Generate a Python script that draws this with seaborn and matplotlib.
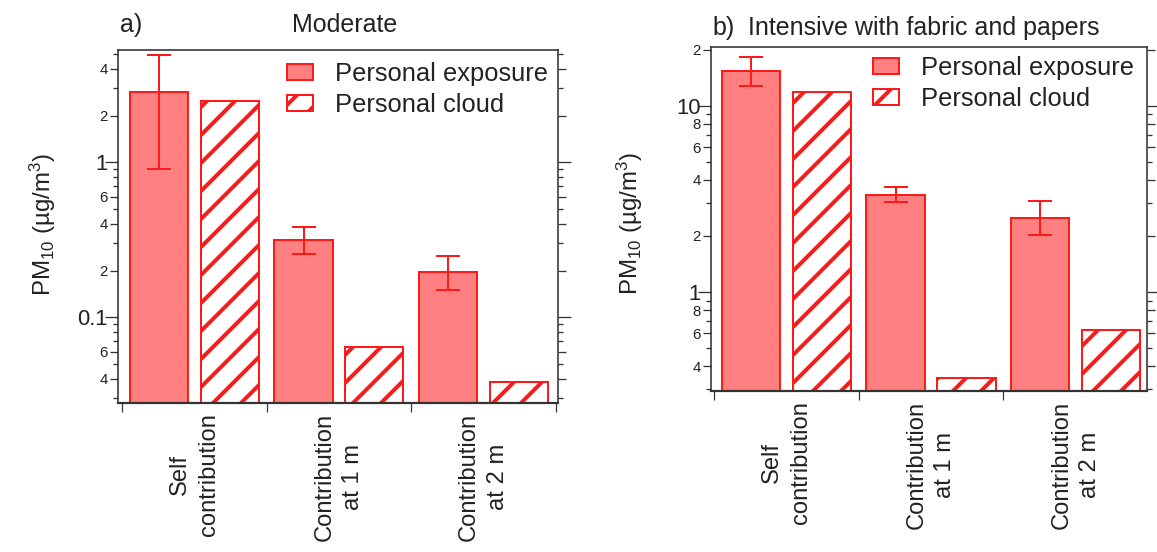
import numpy as np
import pandas as pd
import matplotlib
matplotlib.use("Agg")
import matplotlib.pyplot as plt
from matplotlib.patches import Patch
from matplotlib.ticker import FixedLocator, FixedFormatter, NullFormatter
import seaborn as sns

# ---------------- data ----------------
categories = ["Self\ncontribution", "Contribution\nat 1 m", "Contribution\nat 2 m"]
series = ["Personal exposure", "Personal cloud"]

mod_exposure = [2.85, 0.315, 0.196]
mod_exposure_lo = [0.90, 0.257, 0.151]
mod_exposure_hi = [4.94, 0.381, 0.247]
mod_cloud = [2.50, 0.0641, 0.038]

int_exposure = [15.4, 3.31, 2.50]
int_exposure_lo = [12.8, 3.06, 2.03]
int_exposure_hi = [18.3, 3.67, 3.10]
int_cloud = [11.85, 0.344, 0.627]

mod_major = [0.04, 0.06, 0.1, 0.2, 0.4, 0.6, 1, 2, 4]
mod_major_labels = ["4", "6", "0.1", "2", "4", "6", "1", "2", "4"]
mod_minor = [0.03, 0.05, 0.07, 0.08, 0.09, 0.3, 0.5, 0.7, 0.8, 0.9, 3, 5]

int_major = [0.4, 0.6, 0.8, 1, 2, 4, 6, 8, 10, 20]
int_major_labels = ["4", "6", "8", "1", "2", "4", "6", "8", "10", "2"]
int_minor = [0.3, 0.5, 0.7, 0.9, 3, 5, 7, 9]

decade_labels = {"0.1", "1", "10"}

# ---------------- style ----------------
DPI = 84
W, H = 1157, 552


def px(p):
    return p * 72.0 / DPI


FILL = "#FF8080"
EDGE = "#FF1A1A"
SPINE = "#333333"

sns.set_theme(style="ticks")
plt.rcParams["font.family"] = ["Liberation Sans", "DejaVu Sans"]
plt.rcParams["mathtext.fontset"] = "custom"
plt.rcParams["mathtext.rm"] = "Liberation Sans"
plt.rcParams["mathtext.it"] = "Liberation Sans:italic"
plt.rcParams["mathtext.default"] = "regular"
plt.rcParams["hatch.color"] = EDGE
plt.rcParams["hatch.linewidth"] = px(4)

fig = plt.figure(figsize=(W / DPI, H / DPI), dpi=DPI)


def fbox(l, r, t, b):
    return [l / W, 1 - b / H, (r - l) / W, (b - t) / H]


ax_a = fig.add_axes(fbox(118, 558, 50, 403))
ax_b = fig.add_axes(fbox(711, 1147, 47, 391))


def draw(ax, exp, lo, hi, cloud, major, labels, minor, ylim, xlim, leg_xy):
    df = pd.DataFrame({
        "category": categories * 2,
        "series": [series[0]] * 3 + [series[1]] * 3,
        "value": exp + cloud,
    })
    sns.barplot(data=df, x="category", y="value", hue="series",
                order=categories, hue_order=series,
                palette=[FILL, "white"], saturation=1,
                width=0.98, gap=0.18, errorbar=None, legend=False, ax=ax,
                edgecolor=EDGE, linewidth=px(2))
    ax.set_yscale("log")
    for bar in ax.containers[1]:
        bar.set_hatch("/")
        bar.set_edgecolor(EDGE)
    xs = [b.get_x() + b.get_width() / 2 for b in ax.containers[0]]
    e = np.array(exp)
    ax.errorbar(xs, e, yerr=[e - np.array(lo), np.array(hi) - e], fmt="none",
                ecolor=EDGE, elinewidth=px(2), capsize=px(12), capthick=px(2),
                zorder=5)
    ax.set_ylim(*ylim)
    ax.set_xlim(*xlim)
    ax.set_xlabel("")
    ax.set_ylabel("")

    # y ticks
    ax.yaxis.set_major_locator(FixedLocator(major))
    ax.yaxis.set_major_formatter(FixedFormatter(labels))
    ax.yaxis.set_minor_locator(FixedLocator(minor))
    ax.yaxis.set_minor_formatter(NullFormatter())
    ax.tick_params(axis="y", which="both", direction="out", left=True,
                   right=True, labelright=False, colors=SPINE, width=px(1.3))
    ax.tick_params(axis="y", which="major", length=px(8), labelsize=px(15),
                   pad=px(2), labelcolor="#222222")
    ax.tick_params(axis="y", which="minor", length=px(5))

    # x ticks
    ax.set_xticks(range(len(categories)))
    ax.set_xticklabels(categories)
    ax.xaxis.set_minor_locator(FixedLocator([-0.5, 0.5, 1.5, 2.5]))
    ax.tick_params(axis="x", which="major", length=0, pad=px(10),
                   labelsize=px(23.7), labelcolor="#222222")
    ax.tick_params(axis="x", which="minor", length=px(9), width=px(1.2),
                   direction="out", bottom=True, top=False, colors=SPINE)
    for lbl in ax.get_xticklabels():
        lbl.set_rotation(90)
        lbl.set_multialignment("center")
        lbl.set_linespacing(1.4)
        lbl.set_va("top")
        lbl.set_ha("center")

    for i, t in enumerate(ax.yaxis.get_major_ticks()):
        if i < len(labels) and labels[i] in decade_labels:
            t.tick1line.set_markersize(px(13))
            t.tick2line.set_markersize(px(13))
            t.label1.set_fontsize(px(22))

    for s in ax.spines.values():
        s.set_visible(True)
        s.set_color(SPINE)
        s.set_linewidth(px(1.6))
    ax.spines["bottom"].set_linewidth(px(2.2))
    ax.grid(False)

    handles = [
        Patch(facecolor=FILL, edgecolor=EDGE, linewidth=px(2)),
        Patch(facecolor="white", edgecolor=EDGE, linewidth=px(2), hatch="/"),
    ]
    ax.legend(handles, series, loc="upper left",
              bbox_to_anchor=(leg_xy[0] / W, 1 - leg_xy[1] / H),
              bbox_transform=fig.transFigure, frameon=False, borderpad=0,
              borderaxespad=0, handlelength=1.0, handleheight=0.6,
              handletextpad=0.9, labelspacing=0.26, fontsize=px(25.5),
              labelcolor="#222222")


draw(ax_a, mod_exposure, mod_exposure_lo, mod_exposure_hi, mod_cloud,
     mod_major, mod_major_labels, mod_minor, (0.028, 5.3),
     (-0.5276, 2.514), (287, 62))
draw(ax_b, int_exposure, int_exposure_lo, int_exposure_hi, int_cloud,
     int_major, int_major_labels, int_minor, (0.294, 20.7),
     (-0.5207, 2.493), (873, 56))

ylab = "PM$_{10}$ (µg/m$^{3}$)"
fig.text(43 / W, 1 - 225 / H, ylab, rotation=90, ha="center", va="center",
         fontsize=px(24), color="#222222")
fig.text(630 / W, 1 - 224 / H, ylab, rotation=90, ha="center", va="center",
         fontsize=px(24), color="#222222")

fig.text(120 / W, 1 - 32 / H, "a)", ha="left", va="baseline",
         fontsize=px(25), color="#222222")
fig.text(345 / W, 1 - 32 / H, "Moderate", ha="center", va="baseline",
         fontsize=px(25), color="#222222")
fig.text(712 / W, 1 - 35 / H, "b)", ha="left", va="baseline",
         fontsize=px(25), color="#222222")
fig.text(748 / W, 1 - 35 / H, "Intensive with fabric and papers", ha="left",
         va="baseline", fontsize=px(25), color="#222222")

fig.savefig("out.png", dpi=DPI)
